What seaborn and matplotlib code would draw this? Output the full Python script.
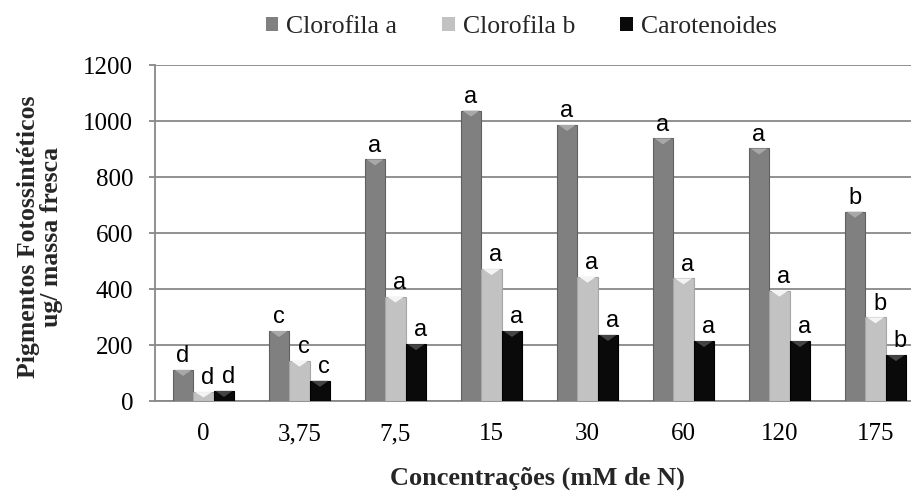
import matplotlib
matplotlib.use("Agg")
import matplotlib.pyplot as plt
from matplotlib.patches import Polygon
import seaborn as sns
import pandas as pd
import numpy as np

concentracoes = ["0", "3,75", "7,5", "15", "30", "60", "120", "175"]
pigmentos = ["Clorofila a", "Clorofila b", "Carotenoides"]
clorofila_a = [111, 250, 863, 1037, 986, 938, 902, 676]
clorofila_b = [32, 144, 373, 471, 444, 438, 394, 299]
carotenoides = [36, 72, 203, 250, 236, 214, 214, 164]
letras_a = ["d", "c", "a", "a", "a", "a", "a", "b"]
letras_b = ["d", "c", "a", "a", "a", "a", "a", "b"]
letras_car = ["d", "c", "a", "a", "a", "a", "a", "b"]

rows = []
for serie, vals in zip(pigmentos, [clorofila_a, clorofila_b, carotenoides]):
    for c, v in zip(concentracoes, vals):
        rows.append({"conc": c, "valor": v, "pigmento": serie})
df = pd.DataFrame(rows)

sns.set_theme(style="white")
plt.rcParams["font.family"] = ["Liberation Serif", "DejaVu Serif"]

fig = plt.figure(figsize=(9.12, 4.94), dpi=100)
W, H = 912, 494
ax = fig.add_axes([155.5 / W, 1 - 401 / H, 768 / W, 336 / H])

palette = {"Clorofila a": "#808080", "Clorofila b": "#c2c2c2", "Carotenoides": "#0a0a0a"}
edges = ["#606060", "#a6a6a6", "#000000"]
tops = ["#a8a8a8", "#f4f4f4", "#444444"]
sns.barplot(data=df, x="conc", y="valor", hue="pigmento", order=concentracoes,
            hue_order=pigmentos, palette=palette, width=0.64, gap=0,
            linewidth=0, saturation=1, ax=ax, legend=True, zorder=3)

ax.set_ylim(0, 1200)
ax.set_xlim(-0.5, 7.5)
ax.set_yticks(np.arange(0, 1201, 200))
ax.yaxis.grid(True, color="#888888", linewidth=1.3, zorder=0)
ax.xaxis.grid(False)
ax.set_axisbelow(True)
for s in ["top", "right"]:
    ax.spines[s].set_visible(False)
for s in ["left", "bottom"]:
    ax.spines[s].set_color("#888888")
    ax.spines[s].set_linewidth(1.3)

# bevel look: darker outline and light top triangle on each bar
tri_h = 6 * 1200 / 336  # ~6 px in data units
for cont, ec, tc in zip(ax.containers, edges, tops):
    for p in cont.patches:
        p.set_edgecolor(ec)
        p.set_linewidth(0.8)
        x0 = p.get_x()
        w = p.get_width()
        top = p.get_height()
        h = min(tri_h, top * 0.6)
        tri = Polygon([[x0 + w * 0.08, top], [x0 + w * 0.92, top], [x0 + w / 2, top - h]],
                      closed=True, facecolor=tc, edgecolor="none", zorder=4)
        ax.add_patch(tri)

ax.set_xlabel("")
ax.set_ylabel("")
ax.tick_params(axis="x", which="major", length=0, pad=16, labelsize=18, labelcolor="black")
ax.set_xticks(np.arange(-0.5, 8, 1), minor=True)
ax.tick_params(axis="x", which="minor", length=6, width=1.3, color="#888888", direction="out")
ax.tick_params(axis="y", length=4, width=1.3, color="#888888", direction="out", pad=12,
               labelsize=18, labelcolor="black", left=True)

letras = [letras_a, letras_b, letras_car]
dxs = [0, 3, 3]
for cont, labs, dx in zip(ax.containers, letras, dxs):
    for p, lab in zip(cont.patches, labs):
        ax.annotate(lab, (p.get_x() + p.get_width() / 2, p.get_height()),
                    xytext=(dx, 2), textcoords="offset points", ha="center", va="bottom",
                    fontsize=17, family=["Liberation Sans", "DejaVu Sans"], color="black",
                    zorder=5)

handles, labels = ax.get_legend_handles_labels()
ax.get_legend().remove()
fig.legend(handles, labels, loc="center", bbox_to_anchor=(521 / W, 1 - 27 / H),
           ncol=3, frameon=False, fontsize=18.5, handlelength=0.5, handleheight=0.5,
           handletextpad=0.3, columnspacing=1.75)

fig.text(40 / W, 1 - 237 / H, "Pigmentos Fotossintéticos\nug/ massa fresca",
         rotation=90, ha="center", va="center", multialignment="center",
         fontsize=18.5, fontweight="bold", linespacing=1.05)
fig.text(537 / W, 1 - 478 / H, "Concentrações (mM de N)", ha="center", va="center",
         fontsize=19, fontweight="bold")

fig.savefig("out.png", dpi=100)
